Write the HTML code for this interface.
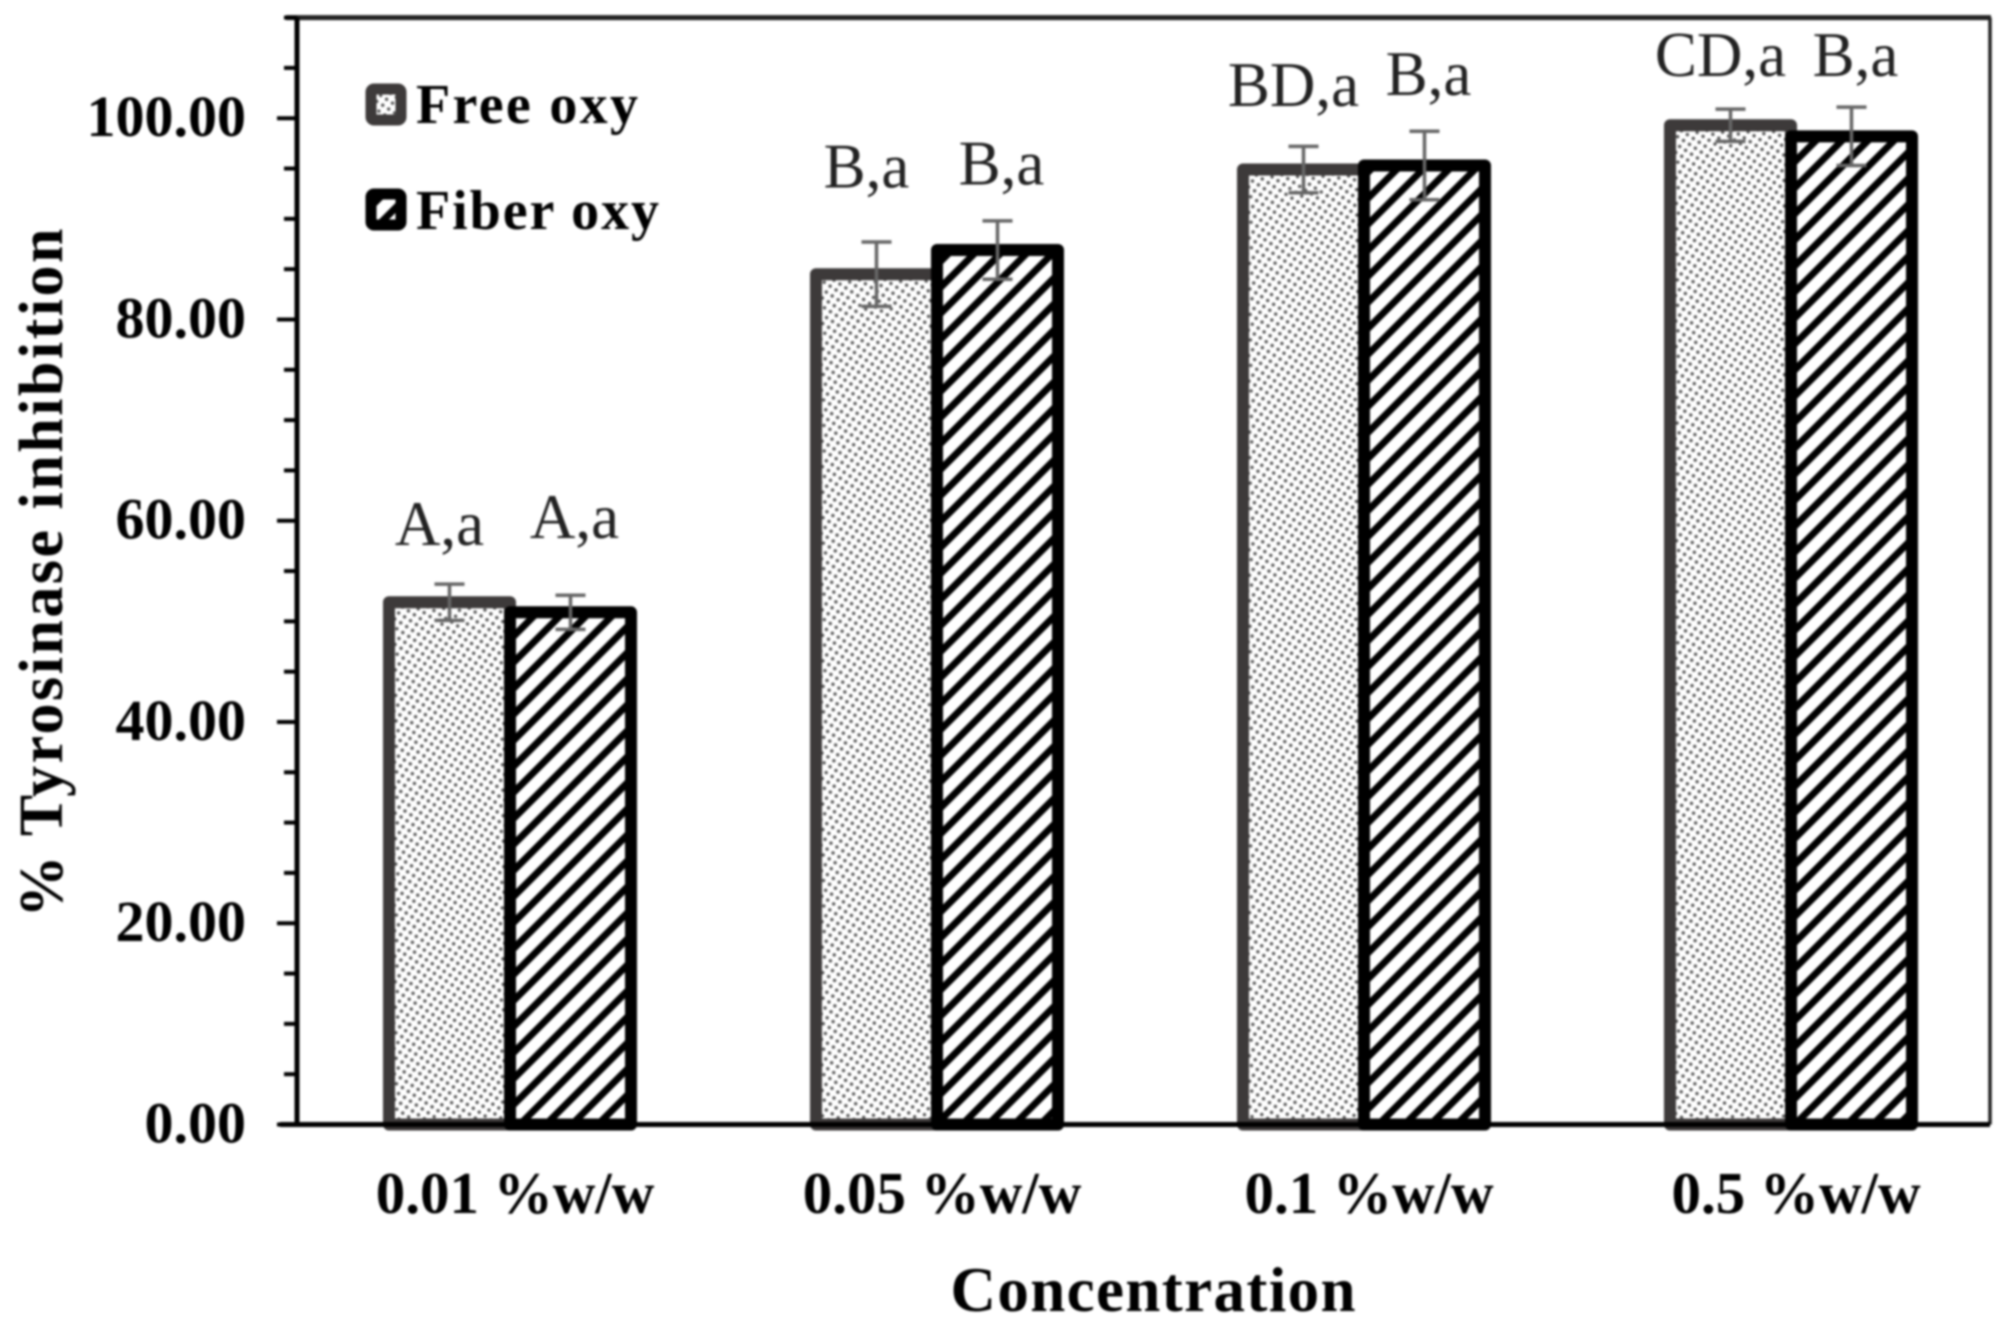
<!DOCTYPE html>
<html lang="en">
<head>
<meta charset="utf-8">
<title>Tyrosinase inhibition chart</title>
<style>
html,body{margin:0;padding:0;background:#fff;}
#chart{display:block;width:2015px;height:1328px;filter:blur(1px);}
text{font-family:"Liberation Serif",serif;fill:#000;}
</style>
</head>
<body>
<svg id="chart" xmlns="http://www.w3.org/2000/svg" width="2015" height="1328" viewBox="0 0 2015 1328">
<defs>
<pattern id="dots" width="10" height="10" patternUnits="userSpaceOnUse" patternTransform="rotate(-12)">
<circle cx="2.5" cy="2.5" r="1.7" fill="#555"/>
<circle cx="7.5" cy="7.5" r="1.7" fill="#555"/>
</pattern>
<pattern id="hatch" width="18.4" height="18.4" patternUnits="userSpaceOnUse" patternTransform="rotate(-45)">
<rect x="0" y="0" width="18.4" height="7" fill="#000"/>
</pattern>
</defs>
<g id="plot"></g>
</svg>
<script>
const categories = ["0.01 %w/w", "0.05 %w/w", "0.1 %w/w", "0.5 %w/w"];
const seriesNames = ["Free oxy", "Fiber oxy"];
const freeValues = [51.9, 84.5, 94.9, 99.3];
const fiberValues = [50.9, 86.9, 95.3, 98.2];
const freeErrors = [1.8, 3.2, 2.3, 1.6];
const fiberErrors = [1.7, 2.9, 3.4, 2.9];
const freeLabels = ["A,a", "B,a", "BD,a", "CD,a"];
const fiberLabels = ["A,a", "B,a", "B,a", "B,a"];
const freeLabelGaps = [3.9, 5.4, 4.0, 3.3];
const fiberLabelGaps = [5.7, 3.6, 3.6, 3.1];
const yTickLabels = ["0.00", "20.00", "40.00", "60.00", "80.00", "100.00"];
const yMinorStep = 5;
const yMax = 110;

const svgNS = "http://www.w3.org/2000/svg";
const plot = document.getElementById("plot");
const left = 297, right = 1990, bottom = 1124.5, top_ = 17.6;
const barW = 121;

function y(v) { return bottom - (v / yMax) * (bottom - top_); }
function xCat(i) { return left + 213 + i * 427; }
function mk(tag, attrs, parent) {
  const e = document.createElementNS(svgNS, tag);
  for (const k in attrs) e.setAttribute(k, attrs[k]);
  (parent || plot).appendChild(e);
  return e;
}

function drawSeries(values, side, fill, stroke, seriesKey) {
  values.forEach(function (v, i) {
    const cx = xCat(i) + side * barW / 2;
    const bar = mk("rect", { x: cx - barW / 2, y: y(v), width: barW, height: y(0) - y(v), fill: fill, stroke: stroke, "stroke-width": 12, "stroke-linejoin": "round" });
    
    
  });
}
function drawErrors(values, errors, labels, gaps, side, seriesKey, labelShift) {
  values.forEach(function (v, i) {
    const cx = xCat(i) + side * barW / 2;
    const g = mk("g", { stroke: "#666", "stroke-width": 3.5, fill: "none" });
    
    
    mk("line", { x1: cx, x2: cx, y1: y(v + errors[i]), y2: y(v - errors[i]) }, g);
    mk("line", { x1: cx - 15, x2: cx + 15, y1: y(v + errors[i]), y2: y(v + errors[i]) }, g);
    mk("line", { x1: cx - 15, x2: cx + 15, y1: y(v - errors[i]), y2: y(v - errors[i]) }, g);
    const t = mk("text", { x: cx + labelShift, y: y(v + errors[i] + gaps[i]), "text-anchor": "middle", "font-size": 63 });
    t.textContent = labels[i];
    t.style.fill = "#222";
    
    
  });
}

// Frame
const frameTop = mk("line", { x1: 286, x2: right + 1, y1: y(yMax), y2: y(yMax), stroke: "#222", "stroke-width": 5 });


const frameRight = mk("line", { x1: right, x2: right, y1: y(yMax), y2: y(0), stroke: "#222", "stroke-width": 3.5 });



// Y ticks
for (let v = 0; v <= yMax; v += yMinorStep) {
  const major = v % 20 === 0;
  const tick = mk("line", { x1: major ? 277 : 284, x2: left, y1: y(v), y2: y(v), stroke: "#000", "stroke-width": 4 });
  
  
}
yTickLabels.forEach(function (s) {
  const t = mk("text", { x: 246, y: y(parseFloat(s)) + 18, "text-anchor": "end", "font-size": 58, "font-weight": "bold" });
  t.textContent = s;
  
  
});

// Bars
drawSeries(freeValues, -1, "url(#dots)", "#3d3a3a", "free");
drawSeries(fiberValues, 1, "url(#hatch)", "#000", "fiber");

// Axes
const yAxis = mk("line", { x1: left, x2: left, y1: y(yMax), y2: y(0), stroke: "#000", "stroke-width": 5 });


const xAxis = mk("line", { x1: 280, x2: right, y1: y(0), y2: y(0), stroke: "#000", "stroke-width": 5 });



drawErrors(freeValues, freeErrors, freeLabels, freeLabelGaps, -1, "free", -10);
drawErrors(fiberValues, fiberErrors, fiberLabels, fiberLabelGaps, 1, "fiber", 4);

// Category labels
categories.forEach(function (c, i) {
  const t = mk("text", { x: xCat(i) + 5, y: 1213, "text-anchor": "middle", "font-size": 59, "font-weight": "bold" });
  t.textContent = c;
  
  
});

// Axis titles
const xTitle = mk("text", { x: 1153, y: 1311, "text-anchor": "middle", "font-size": 63, "font-weight": "bold", textLength: 405 });
xTitle.textContent = "Concentration";


const yTitle = mk("text", { transform: "translate(62,573) rotate(-90)", "text-anchor": "middle", "font-size": 62, "font-weight": "bold", textLength: 689 });
yTitle.textContent = "% Tyrosinase inhibition";



// Legend
seriesNames.forEach(function (name, i) {
  const g = mk("g", {});
  
  
  const ty = i === 0 ? 89 : 194;
  mk("rect", { x: 371, y: ty, width: 30, height: 31, rx: 3, fill: i === 0 ? "url(#dots)" : "url(#hatch)", stroke: i === 0 ? "#3d3a3a" : "#000", "stroke-width": 11, "stroke-linejoin": "round" }, g);
  const t = mk("text", { x: 416, y: i === 0 ? 123 : 229, "font-size": 56, "font-weight": "bold", textLength: i === 0 ? 222 : 243 }, g);
  t.textContent = name;
});
</script>
</body>
</html>
